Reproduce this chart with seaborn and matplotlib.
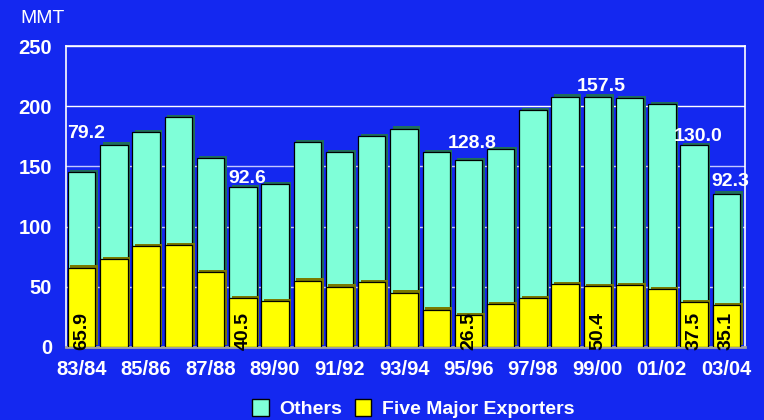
import matplotlib
matplotlib.use("Agg")
import matplotlib.pyplot as plt
import matplotlib.patheffects as pe
from matplotlib.patches import Patch
import seaborn as sns
import pandas as pd

years = ["83/84", "84/85", "85/86", "86/87", "87/88", "88/89", "89/90", "90/91",
         "91/92", "92/93", "93/94", "94/95", "95/96", "96/97", "97/98", "98/99",
         "99/00", "00/01", "01/02", "02/03", "03/04"]
five_major = [65.9, 73.1, 84.0, 84.9, 62.2, 40.5, 38.4, 55.2, 50.2, 54.1, 45.1,
              31.1, 26.5, 35.6, 40.3, 52.1, 50.4, 51.3, 47.9, 37.5, 35.1]
others = [79.2, 95.0, 94.5, 105.9, 94.4, 92.6, 96.9, 115.1, 111.7, 121.3, 136.2,
          130.8, 128.8, 128.6, 156.7, 155.8, 157.5, 155.2, 154.1, 130.0, 92.3]
labelled = [0, 5, 12, 16, 19, 20]
yticks = [0, 50, 100, 150, 200, 250]

# label vertical offsets (points) for the white "Others" labels
label_dy = {0: 25, 5: 2.5, 12: 9, 16: 4, 19: 3, 20: 5.5}

BG = "#1428F0"
AQUA = "#7FFFD8"
YEL = "#FFFF00"

df = pd.DataFrame({"year": years, "five": five_major, "others": others})
df["total"] = df["five"] + df["others"]

sns.set_theme(style="white")
plt.rcParams["font.family"] = ["Liberation Sans", "DejaVu Sans"]

fig = plt.figure(figsize=(7.64, 4.2), dpi=100, facecolor=BG)
ax = fig.add_axes([66 / 764, 1 - 347 / 420, (745 - 66) / 764, (347 - 46) / 420])
ax.set_facecolor(BG)

# gridlines
for t in yticks[1:]:
    col = "white" if t >= 200 else "#c4c8ff"
    ax.axhline(t, color=col, lw=1.0, zorder=0)

sns.barplot(data=df, x="year", y="total", color=AQUA, saturation=1, width=0.85,
            edgecolor="black", linewidth=0.9, ax=ax, zorder=2)
n_tot = len(ax.patches)
sns.barplot(data=df, x="year", y="five", color=YEL, saturation=1, width=0.85,
            edgecolor="black", linewidth=0.9, ax=ax, zorder=3)
for i, p in enumerate(ax.patches):
    shade = "#1f6e5c" if i < n_tot else "#7a7a00"
    p.set_path_effects([pe.SimplePatchShadow(offset=(1.8, 1.6), shadow_rgbFace=shade, alpha=1.0),
                        pe.Normal()])

ax.set_ylim(0, 250)
ax.set_xlim(-0.487, 20.58)
ax.set_yticks(yticks)
ax.set_xticks(range(len(years)))
ax.set_xticklabels([y if i % 2 == 0 else "" for i, y in enumerate(years)])
ax.tick_params(axis="both", length=0, colors="white", labelsize=14.5)
ax.tick_params(axis="x", pad=9.5)
ax.tick_params(axis="y", pad=10)
for lab in ax.get_xticklabels() + ax.get_yticklabels():
    lab.set_fontweight("bold")
ax.set_xlabel("")
ax.set_ylabel("")

for s in ["left", "top", "right"]:
    ax.spines[s].set_color("white")
    ax.spines[s].set_linewidth(1.2)
    ax.spines[s].set_visible(True)
ax.spines["bottom"].set_color("#a0a0a0")
ax.spines["bottom"].set_linewidth(2)

# labels
for i in labelled:
    ax.annotate(f"{others[i]:.1f}", xy=(i, df["total"][i]), xytext=(3, label_dy[i]),
                textcoords="offset points", ha="center", va="baseline",
                color="white", fontsize=14, fontweight="bold", zorder=5)
    ax.annotate(f"{five_major[i]:.1f}", xy=(i, 0), xytext=(0, -2),
                textcoords="offset points", ha="center", va="bottom", rotation=90,
                color="black", fontsize=14, fontweight="bold", zorder=5,
                annotation_clip=False)

fig.text(20.5 / 764, 1 - 23.3 / 420, "MMT", color="white", fontsize=14,
         va="baseline", ha="left")

handles = [Patch(facecolor=AQUA, edgecolor="black", label="Others"),
           Patch(facecolor=YEL, edgecolor="black", label="Five Major Exporters")]
leg = fig.legend(handles=handles, loc="center", bbox_to_anchor=(0.541, 0.027), ncol=2,
                 frameon=False, handlelength=0.85, handleheight=0.95,
                 handletextpad=0.55, columnspacing=0.65,
                 prop={"size": 14, "weight": "bold"})
for t in leg.get_texts():
    t.set_color("white")

fig.savefig("out.png", dpi=100, facecolor=BG)
